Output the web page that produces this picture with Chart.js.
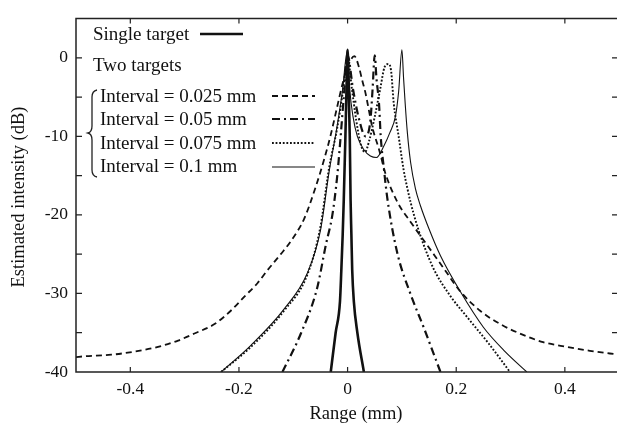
<!DOCTYPE html>
<html>
<head>
<meta charset="utf-8">
<script src="https://cdn.jsdelivr.net/npm/chart.js@4/dist/chart.umd.min.js"></script>
<style>
  html, body { margin: 0; padding: 0; background: #fff; }
  #wrap { width: 617px; height: 428px; }
</style>
</head>
<body>
<div id="wrap"><canvas id="chart" width="617" height="428"></canvas></div>
<script>
// values (range in mm, intensity in dB)
var singleX = [-0.031, -0.022, -0.014, -0.0115, -0.009, -0.007, -0.004, -0.002, 0, 0.002, 0.004, 0.0055, 0.007, 0.0085, 0.0115, 0.018, 0.030];
var singleY = [-40, -35, -31, -27, -22.5, -18, -10, -4, 1, -4, -10, -18, -22.5, -27, -31, -35, -40];

var int025X = [-0.5, -0.484, -0.435, -0.392, -0.349, -0.312, -0.282, -0.245, -0.215, -0.19, -0.166, -0.147, -0.123, -0.105, -0.08, -0.059, -0.043, -0.031, -0.02, -0.01, 0, 0.0125, 0.021, 0.027, 0.033, 0.039, 0.045, 0.058, 0.070, 0.092, 0.116, 0.146, 0.177, 0.207, 0.244, 0.281, 0.317, 0.36, 0.403, 0.446, 0.5];
var int025Y = [-38.1, -38.0, -37.8, -37.4, -36.8, -36.0, -35.1, -33.9, -32.2, -30.4, -28.7, -27.0, -25.0, -23.4, -20.5, -16.5, -12.9, -9.8, -6.5, -3.5, -1.2, 0.2, -1.2, -2.9, -4.5, -6.6, -8.7, -11.7, -14.8, -18.4, -20.9, -23.8, -26.8, -29.7, -32.2, -33.9, -35.1, -36.2, -36.8, -37.3, -37.8];

var int05X = [-0.12, -0.086, -0.056, -0.040, -0.028, -0.019, -0.013, -0.007, 0, 0.01, 0.02, 0.033, 0.042, 0.046, 0.05, 0.053, 0.058, 0.061, 0.067, 0.073, 0.091, 0.116, 0.140, 0.171];
var int05Y = [-40, -35.1, -29.3, -23.8, -20, -15, -10.2, -5, 0.3, -4, -7.5, -10, -8, -4, 0.3, -2.5, -6, -10, -14.2, -17.8, -24.7, -30.1, -34.3, -40];

var int075X = [-0.233, -0.178, -0.117, -0.074, -0.05, -0.034, -0.019, -0.008, 0, 0.008, 0.016, 0.025, 0.032, 0.04, 0.05, 0.06, 0.068, 0.075, 0.08, 0.085, 0.094, 0.103, 0.11, 0.116, 0.13, 0.158, 0.19, 0.22, 0.26, 0.299];
var int075Y = [-40, -36.8, -32.2, -27.6, -21.5, -14, -8.9, -4, 0, -4, -8, -11.2, -12, -10.5, -7.5, -4, -1.2, -0.8, -1.6, -5.8, -10, -14.2, -16.6, -18.4, -21.8, -26.8, -30.4, -33.0, -36.4, -40];

var int1X = [-0.233, -0.178, -0.117, -0.074, -0.05, -0.034, -0.02, -0.01, 0, 0.004, 0.01, 0.018, 0.03, 0.042, 0.053, 0.067, 0.078, 0.088, 0.094, 0.1, 0.103, 0.106, 0.11, 0.116, 0.125, 0.134, 0.15, 0.171, 0.207, 0.25, 0.29, 0.33];
var int1Y = [-40, -36.6, -32, -27.4, -22, -14.5, -9, -4.5, 1, -4, -7.5, -10, -11.7, -12.5, -12.7, -11.2, -9.5, -7.5, -4.3, 1, -2.5, -5.8, -9.5, -13.3, -16.7, -18.8, -21.8, -25.2, -29.7, -34.3, -37.4, -40];

var xTicks = [-0.4, -0.2, 0, 0.2, 0.4];
var yTicks = [-40, -30, -20, -10, 0];
var yMinor = [-35, -30, -25, -20, -15, -10, -5, 0];

var labels = ['Single target', 'Interval = 0.025 mm', 'Interval = 0.05 mm', 'Interval = 0.075 mm', 'Interval = 0.1 mm'];

var FONT = "'Liberation Serif', 'Times New Roman', serif";

function pts(xs, ys) {
    return xs.map(function (x, i) { return { x: x, y: ys[i] }; });
}

function series(label, xs, ys, width, dash) {
    return {
        label: label,
        data: pts(xs, ys),
        borderColor: '#111',
        borderWidth: width,
        borderDash: dash,
        pointRadius: 0,
        showLine: true,
        fill: false,
        cubicInterpolationMode: 'monotone'
    };
}

// frame, inward ticks, titles and the in-plot legend
var decor = {
    id: 'decor',
    afterDraw: function (chart) {
        var ctx = chart.ctx;
        var a = chart.chartArea;
        var xs = chart.scales.x, ys = chart.scales.y;
        ctx.save();
        ctx.strokeStyle = '#222';
        ctx.lineWidth = 1.5;
        ctx.beginPath();
        ctx.moveTo(a.right, a.top); ctx.lineTo(a.left, a.top);
        ctx.lineTo(a.left, a.bottom); ctx.lineTo(a.right, a.bottom);
        ctx.stroke();

        ctx.lineWidth = 1.2;
        ctx.beginPath();
        xTicks.forEach(function (v) {
            var p = xs.getPixelForValue(v);
            ctx.moveTo(p, a.bottom); ctx.lineTo(p, a.bottom - 5);
            ctx.moveTo(p, a.top); ctx.lineTo(p, a.top + 5);
        });
        yMinor.forEach(function (v) {
            var p = ys.getPixelForValue(v);
            ctx.moveTo(a.left, p); ctx.lineTo(a.left + 6, p);
            ctx.moveTo(a.right, p); ctx.lineTo(a.right - 5, p);
        });
        ctx.stroke();

        ctx.fillStyle = '#111';
        ctx.font = '18.5px ' + FONT;
        ctx.textAlign = 'center';
        ctx.textBaseline = 'middle';
        ctx.fillText('Range (mm)', 356, 414);
        ctx.save();
        ctx.translate(19, 197);
        ctx.rotate(-Math.PI / 2);
        ctx.fillText('Estimated intensity (dB)', 0, 0);
        ctx.restore();

        // legend
        ctx.font = '19px ' + FONT;
        ctx.textAlign = 'left';
        ctx.fillText(labels[0], 93, 35);
        ctx.fillText('Two targets', 93, 66);
        var rows = [97, 120, 144, 167];
        for (var i = 1; i < 5; i++) {
            ctx.fillText(labels[i], 100, rows[i - 1]);
        }
        var samples = [[200, 243, 34], [272, 315, 96], [272, 315, 119], [272, 315, 143], [272, 315, 167]];
        chart.data.datasets.forEach(function (ds, i) {
            var s = samples[i];
            ctx.save();
            ctx.strokeStyle = ds.borderColor;
            ctx.lineWidth = ds.borderWidth;
            ctx.setLineDash(ds.borderDash || []);
            ctx.beginPath();
            ctx.moveTo(s[0], s[2]); ctx.lineTo(s[1], s[2]);
            ctx.stroke();
            ctx.restore();
        });

        // brace
        ctx.lineWidth = 1.3;
        ctx.setLineDash([]);
        ctx.beginPath();
        ctx.moveTo(97, 90);
        ctx.quadraticCurveTo(92, 91, 92, 97);
        ctx.lineTo(92, 126);
        ctx.quadraticCurveTo(92, 132, 88, 133);
        ctx.quadraticCurveTo(92, 134, 92, 140);
        ctx.lineTo(92, 170);
        ctx.quadraticCurveTo(92, 176, 97, 177);
        ctx.stroke();
        ctx.restore();
    }
};

var chart = new Chart('chart', {
    type: 'scatter',
    data: {
        datasets: [
            series(labels[0], singleX, singleY, 2.6, []),
            series(labels[1], int025X, int025Y, 1.8, [6, 4]),
            series(labels[2], int05X, int05Y, 2.2, [8, 4, 2, 4]),
            series(labels[3], int075X, int075Y, 1.9, [1.8, 1.8]),
            series(labels[4], int1X, int1Y, 1.1, [])
        ]
    },
    options: {
        responsive: false,
        animation: false,
        layout: { padding: { top: 14, right: 0, left: 0, bottom: 0 } },
        plugins: { legend: { display: false }, tooltip: { enabled: false } },
        scales: {
            x: {
                type: 'linear',
                min: -0.5,
                max: 0.496,
                grid: { display: false, drawTicks: false },
                border: { display: false },
                afterFit: function (s) { s.height = 56; },
                afterBuildTicks: function (s) {
                    s.ticks = xTicks.map(function (v) { return { value: v }; });
                },
                ticks: {
                    padding: 7,
                    color: '#111',
                    font: { family: FONT, size: 17.5 },
                    callback: function (v) { return String(v); }
                }
            },
            y: {
                min: -40,
                max: 5,
                grid: { display: false, drawTicks: false },
                border: { display: false },
                afterFit: function (s) { s.width = 76; },
                afterBuildTicks: function (s) {
                    s.ticks = yTicks.map(function (v) { return { value: v }; });
                },
                ticks: {
                    padding: 8,
                    color: '#111',
                    font: { family: FONT, size: 17.5 },
                    callback: function (v) { return String(v); }
                }
            }
        }
    },
    plugins: [decor]
});
</script>
</body>
</html>
